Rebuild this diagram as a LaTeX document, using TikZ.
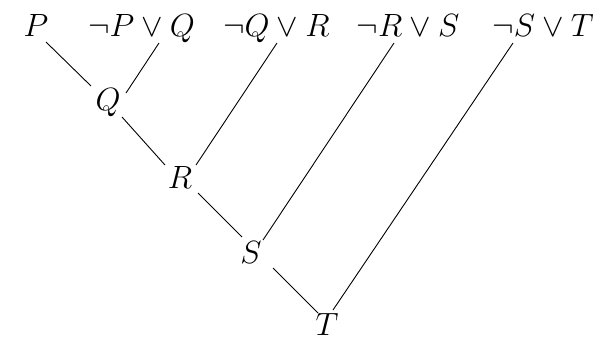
\RequirePackage{fix-cm}
\documentclass[tikz,border=0pt]{standalone}
\usetikzlibrary{calc}
\begin{document}
\begin{tikzpicture}[x=1pt,y=-1pt,
  lbl/.style={anchor=base, inner sep=0pt, font=\fontsize{32.2}{38}\selectfont},
  edge/.style={line width=0.9pt, black}]
\useasboundingbox (0,0) rectangle (606,338);
\node[lbl] (P)  at (36,36)    {$P$};
\node[lbl] (PQ) at (141.5,36) {$\neg P\vee Q$};
\node[lbl] (QR) at (276.5,36) {$\neg Q\vee R$};
\node[lbl] (RS) at (408,36)   {$\neg R\vee S$};
\node[lbl] (ST) at (543,36)   {$\neg S\vee T$};
\node[lbl] (Q)  at (108,110)  {$Q$};
\node[lbl] (R)  at (180,188)  {$R$};
\node[lbl] (S)  at (251,263)  {$S$};
\node[lbl] (T)  at (327,335.5)  {$T$};
\draw[edge] ($(P.base)+(10,6)$)    -- ($(Q.base)+(-17,-24)$);
\draw[edge] ($(PQ.base)+(17.5,7)$) -- ($(Q.base)+(18,-17)$);
\draw[edge] ($(Q.base)+(14,7)$)    -- ($(R.base)+(-15,-23)$);
\draw[edge] ($(QR.base)+(0.5,7)$)  -- ($(R.base)+(16,-23)$);
\draw[edge] ($(R.base)+(18,5)$)    -- ($(S.base)+(-9,-26)$);
\draw[edge] ($(RS.base)+(-14,7)$)  -- ($(S.base)+(12,-23)$);
\draw[edge] ($(S.base)+(22,5)$)    -- ($(T.base)+(-9,-22.5)$);
\draw[edge] ($(ST.base)+(-30,7)$)  -- ($(T.base)+(6,-25.5)$);
\end{tikzpicture}
\end{document}
